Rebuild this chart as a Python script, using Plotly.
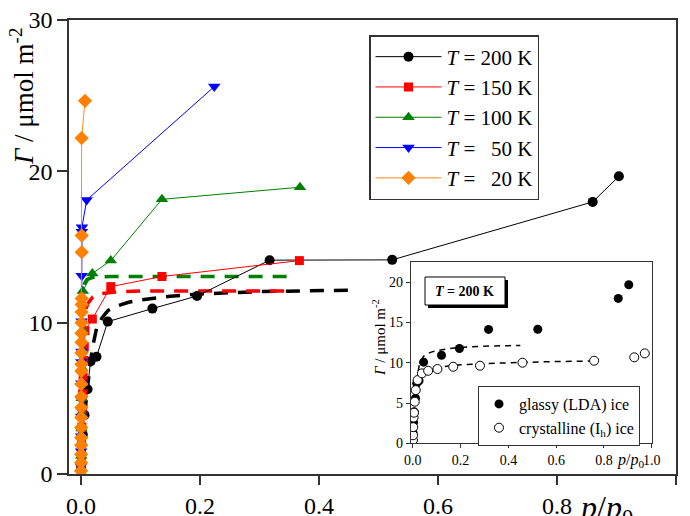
import plotly.graph_objects as go

FONT = "Liberation Serif"

# ---------------- main data (p/p0 , Gamma in umol m^-2) ----------------
t200_x = [0.0003, 0.001, 0.003, 0.006, 0.011, 0.016, 0.026, 0.045, 0.12, 0.195, 0.317, 0.523, 0.86, 0.904]
t200_y = [0.4, 1.3, 2.6, 3.9, 5.6, 7.44, 7.75, 10.07, 10.93, 11.76, 14.13, 14.15, 17.98, 19.67]

t150_x = [0.0003, 0.0006, 0.001, 0.0015, 0.002, 0.0028, 0.0036, 0.0045, 0.0055, 0.0067, 0.019, 0.05, 0.136, 0.367]
t150_y = [0.3, 1.0, 2.0, 3.1, 4.2, 5.3, 6.4, 7.5, 8.4, 9.47, 10.24, 12.38, 13.05, 14.1]

t100_x = [0.0002, 0.0004, 0.0006, 0.0008, 0.001, 0.0012, 0.0015, 0.0018, 0.0021, 0.0025, 0.003, 0.019, 0.05, 0.136, 0.368]
t100_y = [0.4, 1.2, 2.1, 3.0, 4.0, 5.0, 6.0, 7.0, 8.2, 9.5, 12.1, 13.25, 14.1, 18.15, 18.95]

t50_x = [0.0001, 0.0002, 0.0003, 0.0004, 0.0005, 0.0006, 0.0007, 0.0008, 0.001, 0.0012, 0.0014, 0.0016, 0.0095, 0.224]
t50_y = [0.5, 1.5, 2.5, 3.8, 4.9, 6.0, 7.4, 8.1, 10.1, 13.1, 16.0, 16.3, 18.1, 25.6]

t20_x = [0.0001, 0.0001, 0.0002, 0.0002, 0.0003, 0.0003, 0.0004, 0.0004, 0.0005, 0.0005, 0.0006, 0.0006,
         0.0007, 0.0007, 0.0008, 0.0009, 0.001, 0.0011, 0.0012, 0.0012, 0.0012, 0.001, 0.0067]
t20_y = [0.2, 0.75, 1.3, 1.9, 2.4, 3.07, 3.73, 4.39, 5.1, 5.94, 6.8, 7.26, 8.0, 8.7, 9.3, 10.0, 10.7, 11.2,
         11.6, 14.66, 15.76, 22.2, 24.66]

# fitted curves (dashed)
fit200_x = [0.001, 0.003, 0.006, 0.009, 0.012, 0.016, 0.02, 0.026, 0.035, 0.045, 0.06, 0.08, 0.1, 0.15, 0.2, 0.3, 0.45]
fit200_y = [0.8, 2.2, 3.8, 5.0, 6.2, 7.5, 8.5, 9.6, 10.3, 10.8, 11.1, 11.35, 11.5, 11.75, 11.9, 12.05, 12.15]

fit150_x = [0.0005, 0.002, 0.004, 0.008, 0.012, 0.02, 0.03, 0.05, 0.1, 0.2, 0.35]
fit150_y = [3.0, 7.5, 9.5, 10.9, 11.3, 11.7, 11.9, 12.0, 12.1, 12.1, 12.1]

fit100_x = [0.0002, 0.001, 0.003, 0.006, 0.01, 0.02, 0.05, 0.346]
fit100_y = [3.0, 9.0, 11.8, 12.6, 12.85, 13.0, 13.05, 13.05]

# ---------------- inset data (T = 200 K) ----------------
glassy_x = t200_x
glassy_y = t200_y
cryst_x = [0.0003, 0.0008, 0.0015, 0.003, 0.005, 0.008, 0.012, 0.02, 0.038, 0.064, 0.103, 0.169, 0.281, 0.459, 0.759, 0.927, 0.971]
cryst_y = [0.4, 1.0, 2.0, 3.2, 3.8, 5.16, 6.6, 7.85, 8.68, 9.0, 9.22, 9.5, 9.63, 10.0, 10.25, 10.67, 11.16]
fitc_x = [0.001, 0.003, 0.006, 0.01, 0.015, 0.02, 0.03, 0.045, 0.07, 0.1, 0.15, 0.2, 0.3, 0.45, 0.6, 0.77]
fitc_y = [0.8, 2.3, 4.0, 5.5, 6.6, 7.3, 8.1, 8.7, 9.1, 9.35, 9.6, 9.75, 9.9, 10.05, 10.15, 10.22]

x_ticks = [0.0, 0.2, 0.4, 0.6, 0.8, 1.0]
x_ticklabels = ["0.0", "0.2", "0.4", "0.6", "0.8", "1.0"]
y_ticks = [0, 10, 20, 30]
in_y_ticks = [0, 5, 10, 15, 20]

NB = "\u00a0"
series = [
    (t200_x, t200_y, f"<i>T</i> = 200 K", "#000000", "#000000", "circle", 10),
    (t150_x, t150_y, f"<i>T</i> = 150 K", "#ff0000", "#ff0000", "square", 9),
    (t100_x, t100_y, f"<i>T</i> = 100 K", "#008000", "#008000", "triangle-up", 11),
    (t50_x, t50_y, f"<i>T</i> = {NB*2}50 K", "#0000ff", "#0000ff", "triangle-down", 11),
    (t20_x, t20_y, f"<i>T</i> = {NB*2}20 K", "#ff8000", "#ff8c1a", "diamond", 11),
]

fig = go.Figure()

# dashed fits first (under markers)
for fx, fy, col in [(fit200_x, fit200_y, "#000000"), (fit150_x, fit150_y, "#ff0000"), (fit100_x, fit100_y, "#008000")]:
    fig.add_trace(go.Scatter(x=fx, y=fy, mode="lines", line=dict(color=col, width=3.5, dash="14px,10px"),
                             showlegend=False, hoverinfo="skip"))

for sx, sy, name, mcol, lcol, sym, sz in series:
    fig.add_trace(go.Scatter(x=sx, y=sy, mode="lines+markers", name=name,
                             line=dict(color=lcol, width=1),
                             marker=dict(symbol=sym, size=sz, color=mcol, line=dict(width=0)),
                             legend="legend"))

# inset traces
fig.add_trace(go.Scatter(x=fit200_x, y=fit200_y, mode="lines", xaxis="x2", yaxis="y2",
                         line=dict(color="#000000", width=1.5, dash="6px,5px"), showlegend=False))
fig.add_trace(go.Scatter(x=fitc_x, y=fitc_y, mode="lines", xaxis="x2", yaxis="y2",
                         line=dict(color="#000000", width=1.5, dash="6px,5px"), showlegend=False))
fig.add_trace(go.Scatter(x=glassy_x, y=glassy_y, mode="markers", xaxis="x2", yaxis="y2",
                         name="glassy (LDA) ice", legend="legend2",
                         marker=dict(symbol="circle", size=9, color="#000000", line=dict(width=0))))
fig.add_trace(go.Scatter(x=cryst_x, y=cryst_y, mode="markers", xaxis="x2", yaxis="y2",
                         name="crystalline (I<sub>h</sub>) ice", legend="legend2",
                         marker=dict(symbol="circle", size=9, color="#ffffff", line=dict(width=1, color="#000000"))))

W, H = 690, 516
L, R, T, B = 69, 14, 20, 42
pw, ph = W - L - R, H - T - B


def px(xp):
    return (xp - L) / pw


def py(yp):
    return (H - B - yp) / ph


axis_common = dict(showgrid=False, zeroline=False, showline=True, mirror=True, automargin=False,
                   linecolor="#333333", ticks="outside", tickcolor="#333333")

fig.update_layout(
    width=W, height=H,
    margin=dict(l=L, r=R, t=T, b=B, autoexpand=False),
    paper_bgcolor="white", plot_bgcolor="white",
    font=dict(family=FONT, color="black"),
    xaxis=dict(range=[-0.0202, 1.0], tickvals=x_ticks, ticktext=x_ticklabels, tickfont=dict(size=24),
               ticklen=9, linewidth=1.5, tickwidth=1.5, **axis_common),
    yaxis=dict(range=[0, 30], tickvals=y_ticks, tickfont=dict(size=24), ticklen=10,
               linewidth=1.5, tickwidth=1.5, **axis_common),
    xaxis2=dict(domain=[px(410.7), px(651.7)], anchor="y2", range=[-0.009, 1.0], tickvals=x_ticks,
                ticktext=x_ticklabels, tickfont=dict(size=14), ticklen=4, linewidth=1, tickwidth=1,
                **axis_common),
    yaxis2=dict(domain=[py(443.3), py(262)], anchor="x2", range=[0, 22.5], tickvals=in_y_ticks,
                tickfont=dict(size=14), ticklen=4, linewidth=1, tickwidth=1, **axis_common),
    legend=dict(x=px(369), y=py(35), xanchor="left", yanchor="top", bgcolor="white",
                bordercolor="#333333", borderwidth=1.5, font=dict(size=21, family=FONT),
                traceorder="normal", itemwidth=66),
    legend2=dict(x=px(478), y=py(386), xanchor="left", yanchor="top", bgcolor="white",
                 bordercolor="#333333", borderwidth=1, font=dict(size=16, family=FONT),
                 traceorder="normal"),
    showlegend=True,
)

# T = 200 K label box with drop shadow
fig.add_shape(type="rect", xref="paper", yref="paper", x0=px(428), x1=px(508), y0=py(308), y1=py(280),
              fillcolor="#000000", line=dict(width=0))
fig.add_shape(type="rect", xref="paper", yref="paper", x0=px(425), x1=px(505), y0=py(305), y1=py(277),
              fillcolor="#ffffff", line=dict(width=1, color="#000000"))

annotations = [
    dict(text="<i>Γ</i> / μmol m<sup>-2</sup>", x=px(22), y=py(97), textangle=-90, font=dict(size=27)),
    dict(text="<i>p</i>/<i>p</i><sub>0</sub>", x=px(606), y=py(509), font=dict(size=32)),
    dict(text="<i>Γ</i> / μmol m<sup>-2</sup>", x=px(379), y=py(338), textangle=-90, font=dict(size=15)),
    dict(text="<i>p</i>/<i>p</i><sub>0</sub>", x=px(630), y=py(460), font=dict(size=16)),
    dict(text="<b><i>T</i> = 200 K</b>", x=px(465), y=py(291), font=dict(size=14)),
]
for a in annotations:
    fig.add_annotation(xref="paper", yref="paper", showarrow=False, xanchor="center", yanchor="middle",
                       font_family=FONT, font_color="black", **{k: v for k, v in a.items()})

fig.write_html("out.html")
